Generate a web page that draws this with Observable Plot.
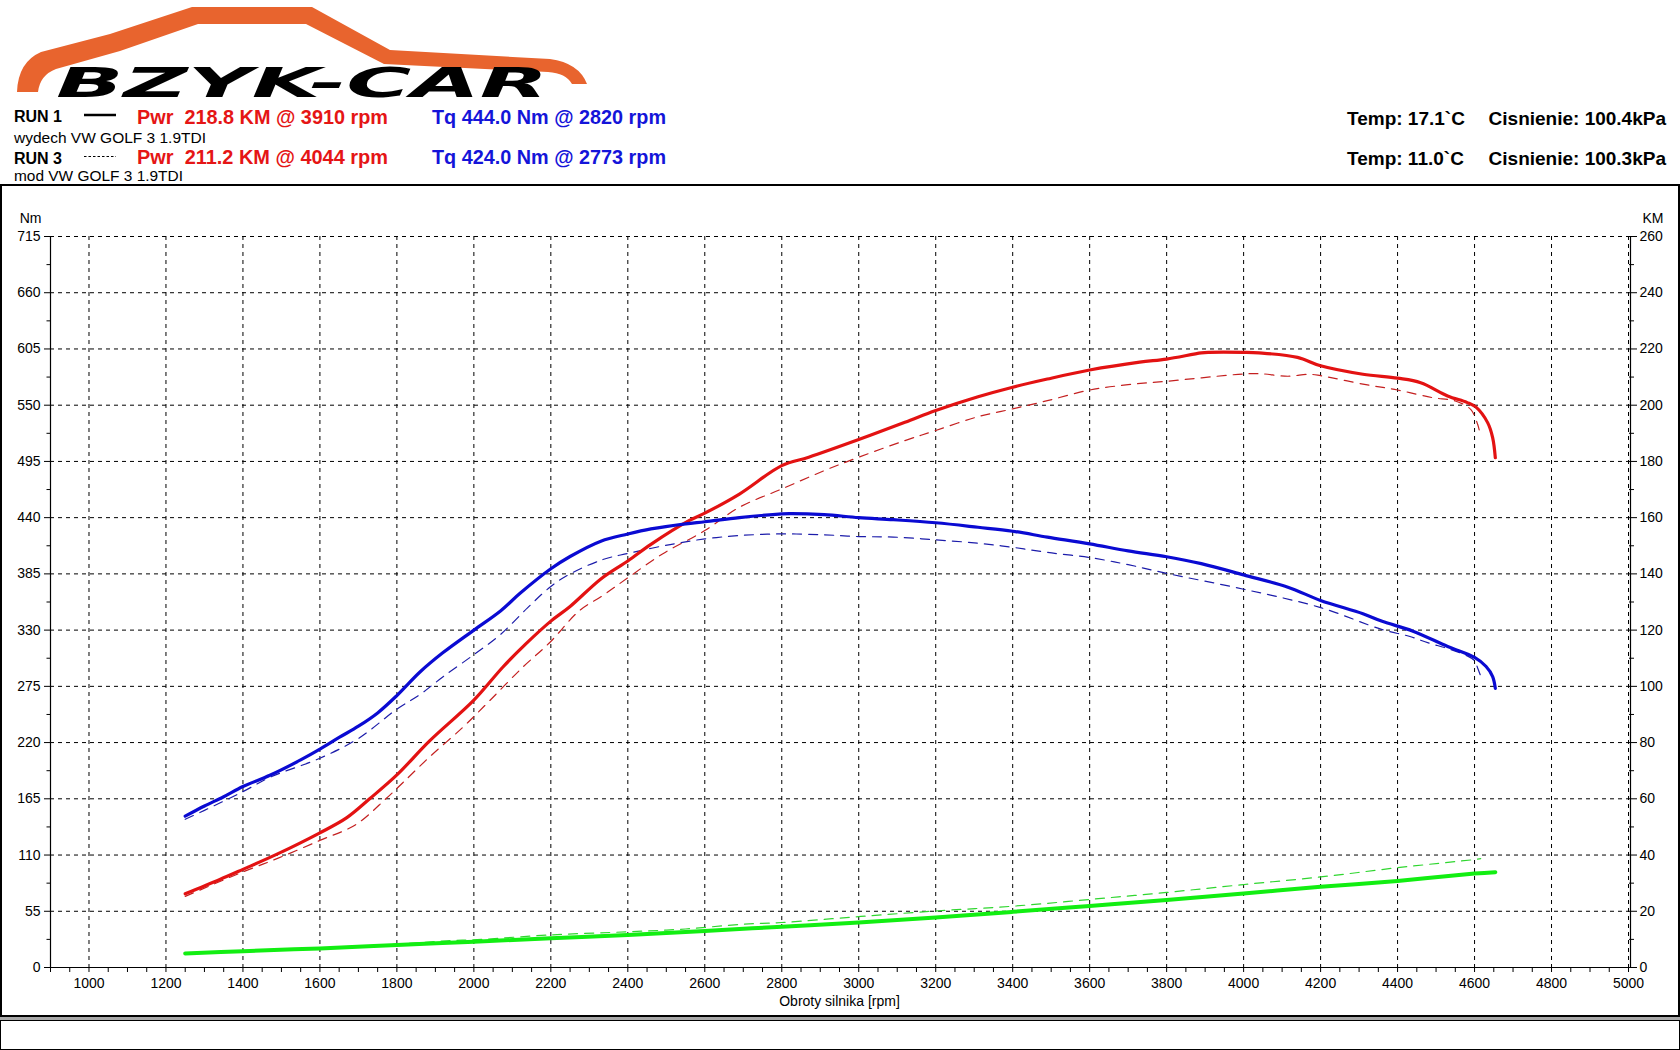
<!DOCTYPE html>
<html>
<head>
<meta charset="utf-8">
<script src="https://cdn.jsdelivr.net/npm/d3@7"></script>
<script src="https://cdn.jsdelivr.net/npm/@observablehq/plot@0.6"></script>
<style>
html, body { margin: 0; padding: 0; background: #fff; }
#page { position: relative; width: 1680px; height: 1050px; overflow: hidden; font-family: "Liberation Sans", Arial, sans-serif; background: #fff; }
#header { position: absolute; left: 0; top: 0; }
#frame { position: absolute; left: 0; top: 184px; width: 1680px; height: 833px; border: 2px solid #000; box-sizing: border-box; }
#bar { position: absolute; left: 0; top: 1017px; width: 1680px; height: 3px; background: #a8a8a8; }
#box2 { position: absolute; left: 0; top: 1020px; width: 1680px; height: 30px; border: 1px solid #000; box-sizing: border-box; }
#chart { position: absolute; left: 2px; top: 186px; }
</style>
</head>
<body>
<div id="page">
  <svg id="header" width="1680" height="184" xmlns="http://www.w3.org/2000/svg" font-family="Liberation Sans, Arial, sans-serif">
    <path d="M17,92 Q18,62 41,52 L110,34 L192,7 L312,7 L390,50 L550,59 Q579,63 587,84 L572,84 Q566,73 548,72 L384,64 L306,24 L198,24 L120,51 L56,69 Q40,75 38,92 Z" fill="#e8642e"/>
    <text x="56" y="97" font-family="DejaVu Sans, sans-serif" font-weight="bold" font-style="oblique" font-size="41" textLength="492" lengthAdjust="spacingAndGlyphs" fill="#000">BZYK-CAR</text>

    <text x="14" y="121.5" font-weight="bold" font-size="16" fill="#000">RUN 1</text>
    <line x1="84" x2="116" y1="115" y2="115" stroke="#000" stroke-width="2.5"/>
    <text x="137" y="124" font-weight="bold" font-size="20" fill="#e51515" textLength="251" lengthAdjust="spacingAndGlyphs" style="white-space:pre">Pwr  218.8 KM @ 3910 rpm</text>
    <text x="432" y="124" font-weight="bold" font-size="20" fill="#1414d9" textLength="234" lengthAdjust="spacingAndGlyphs">Tq 444.0 Nm @ 2820 rpm</text>
    <text x="14" y="142.5" font-size="14.5" fill="#000" textLength="192" lengthAdjust="spacingAndGlyphs">wydech VW GOLF 3 1.9TDI</text>

    <text x="14" y="164" font-weight="bold" font-size="16" fill="#000">RUN 3</text>
    <line x1="84" x2="116" y1="156.5" y2="156.5" stroke="#000" stroke-width="1" stroke-dasharray="2.5,2"/>
    <text x="137" y="163.5" font-weight="bold" font-size="20" fill="#e51515" textLength="251" lengthAdjust="spacingAndGlyphs" style="white-space:pre">Pwr  211.2 KM @ 4044 rpm</text>
    <text x="432" y="163.5" font-weight="bold" font-size="20" fill="#1414d9" textLength="234" lengthAdjust="spacingAndGlyphs">Tq 424.0 Nm @ 2773 rpm</text>
    <text x="14" y="181" font-size="14.5" fill="#000" textLength="169" lengthAdjust="spacingAndGlyphs">mod VW GOLF 3 1.9TDI</text>

    <text x="1347" y="125" font-weight="bold" font-size="19" fill="#000">Temp: 17.1`C</text>
    <text x="1666" y="125" font-weight="bold" font-size="19" fill="#000" text-anchor="end">Cisnienie: 100.4kPa</text>
    <text x="1347" y="165" font-weight="bold" font-size="19" fill="#000">Temp: 11.0`C</text>
    <text x="1666" y="165" font-weight="bold" font-size="19" fill="#000" text-anchor="end">Cisnienie: 100.3kPa</text>
  </svg>
  <div id="frame"></div>
  <div id="bar"></div>
  <div id="box2"></div>
  <div id="chart"></div>
</div>
<script>
// ---- Torque (Nm) ----
const tq1Rpm = [1250,1300,1350,1400,1470,1550,1600,1650,1700,1750,1800,1860,1920,2000,2070,2120,2200,2250,2330,2400,2460,2550,2600,2690,2800,2820,2910,3000,3090,3200,3310,3400,3490,3600,3700,3800,3890,4000,4115,4200,4310,4360,4440,4530,4600,4630,4647,4654];
const tq1Nm  = [148,158,167,177,188,203,213.5,225,236,249,266,289,308,330,349,366,390,402,417,424,429,434,436,440,443.7,444,443,440,438,435,430.6,426.7,421,414.4,407.5,401.8,395,384,372,359,346,338.6,329,314,303.3,294.4,284.6,273];
const tq3Rpm = [1250,1300,1400,1470,1600,1700,1800,1860,1920,2000,2070,2140,2200,2250,2335,2400,2510,2600,2690,2800,2910,3000,3090,3200,3310,3400,3490,3600,3700,3800,4000,4200,4360,4430,4480,4530,4580,4600,4608,4615];
const tq3Nm  = [145,153.7,172,186,204.7,224,252.7,267,284.4,306,326,352,372.7,385,399,405,413.7,419.2,422.5,424.1,423.2,421.5,421,418.3,415,411,406,401,394,385.5,370,352,330.5,324,317.5,312,305,300,293,286];

// ---- Power (KM) ----
const pw1Rpm = [1250,1340,1400,1490,1600,1670,1730,1800,1885,2000,2075,2135,2200,2250,2330,2400,2460,2560,2600,2690,2800,2870,3000,3120,3200,3310,3400,3490,3600,3730,3800,3890,3910,4000,4040,4140,4200,4310,4400,4460,4530,4580,4603,4634,4647,4654];
const pw1Km  = [26.2,31.3,34.9,40.4,47.9,53.3,60.1,68.5,80.6,95.1,106.8,115.1,123.2,128.4,138.2,144.6,150.5,159,161.6,168.4,178.5,181.5,187.8,193.9,198.1,203,206.4,209.3,212.5,215.3,216.4,218.6,218.8,218.8,218.6,217,214,211,209.6,208,203.3,201,199.4,193.8,188.5,181.3];
const pw3Rpm = [1250,1400,1490,1600,1694,1772,1816,1885,1971,2041,2127,2198,2274,2335,2400,2490,2600,2690,2800,2910,3000,3120,3200,3310,3400,3490,3600,3700,3800,4000,4044,4115,4170,4200,4310,4400,4490,4550,4590,4608,4615];
const pw3Km  = [25.3,34,38.8,45.2,50.9,60.1,65.8,74.9,85.4,94.9,106.8,115.7,126.9,132.3,138.6,147.1,155.4,163.7,170.2,176.7,181.5,187.4,191,195.9,198.7,201.6,205.4,207.3,208.5,211.1,211.2,210.3,211,210.5,207.5,205.4,202.7,201.5,198.5,193.2,189.4];

// ---- Loss power (KM) ----
const ls1Rpm = [1250,1400,1600,1800,2000,2200,2400,2600,2800,3000,3200,3400,3600,3800,4000,4200,4400,4600,4654];
const ls1Km  = [5.0,5.8,6.8,8.0,9.2,10.4,11.6,13.0,14.5,16.0,17.8,19.8,21.9,24.0,26.3,28.7,30.8,33.4,33.9];
const ls3Rpm = [1250,1400,1600,1800,1930,2020,2200,2400,2550,2700,2800,3000,3200,3400,3600,3800,4000,4200,4400,4600,4616];
const ls3Km  = [5.0,5.9,7.0,8.3,9.5,10.0,11.6,12.7,13.7,15.4,16.0,18.1,20.1,21.8,24.2,26.7,29.5,32.2,35.5,38.4,38.7];

// ---- Axis ticks ----
const rpmLabels = d3.range(1000, 5001, 200);
const rpmMinor  = d3.range(900, 5001, 50);
const nmTicks   = d3.range(0, 716, 55);
const kmTicks   = d3.range(0, 261, 20);
const kmPerNm = 2.75; // right axis: 260 KM = 715 Nm

const zip = (xs, ys) => xs.map((x, i) => ({rpm: x, v: ys[i]}));
const tq1 = zip(tq1Rpm, tq1Nm), tq3 = zip(tq3Rpm, tq3Nm);
const pw1 = zip(pw1Rpm, pw1Km), pw3 = zip(pw3Rpm, pw3Km);
const ls1 = zip(ls1Rpm, ls1Km), ls3 = zip(ls3Rpm, ls3Km);
const kmY = d => d.v * kmPerNm;

const grid = {stroke: "#000", strokeOpacity: 1, strokeWidth: 1, strokeDasharray: "4,4"};
const curve = "catmull-rom";

const chart = Plot.plot({
  width: 1676,
  height: 827,
  marginLeft: 48,
  marginRight: 50,
  marginTop: 50,
  marginBottom: 46,
  style: {background: "transparent", fontFamily: "Liberation Sans, Arial, sans-serif", fontSize: "14px", color: "#000"},
  x: {domain: [900, 5000]},
  y: {domain: [0, 715]},
  marks: [
    Plot.gridX(rpmLabels, grid),
    Plot.gridY(nmTicks.slice(1), grid),
    // axes lines
    Plot.ruleX([900], {stroke: "#000", strokeWidth: 1.2}),
    Plot.ruleX([5000], {stroke: "#000", strokeWidth: 1.2, dx: 2}),
    Plot.ruleY([0], {stroke: "#000", strokeWidth: 1.2}),
    // left axis
    Plot.axisY({anchor: "left", ticks: nmTicks, tickSize: 6, tickPadding: 4, label: null, fontSize: 14}),
    Plot.axisY({anchor: "left", ticks: nmTicks.slice(0, -1).map(d => d + 27.5), tickSize: 3.5, tickFormat: () => "", label: null}),
    // right axis (KM)
    Plot.axisY({anchor: "right", ticks: kmTicks.map(k => k * kmPerNm), tickFormat: d => String(Math.round(d / kmPerNm)), tickSize: 8, tickPadding: 3, label: null, fontSize: 14}),
    Plot.axisY({anchor: "right", ticks: kmTicks.slice(0, -1).map(k => (k + 10) * kmPerNm), tickSize: 5, tickFormat: () => "", label: null}),
    // bottom axis
    Plot.axisX({anchor: "bottom", ticks: rpmMinor, tickSize: 5, tickFormat: () => "", label: null}),
    Plot.axisX({anchor: "bottom", ticks: rpmLabels, tickSize: 0, tickPadding: 11, tickFormat: d => String(d), label: null, fontSize: 14}),
    // axis titles
    Plot.text(["Nm"], {frameAnchor: "top-left", dx: -9, dy: -18, textAnchor: "end", lineAnchor: "middle", fontSize: 14}),
    Plot.text(["KM"], {frameAnchor: "top-right", dx: 14, dy: -18, textAnchor: "start", lineAnchor: "middle", fontSize: 14}),
    Plot.text(["Obroty silnika [rpm]"], {frameAnchor: "bottom", dy: 34, lineAnchor: "middle", fontSize: 14}),
    // run 3 (dashed)
    Plot.line(ls3, {x: "rpm", y: kmY, stroke: "#2fd62f", strokeWidth: 1.2, strokeDasharray: "9,7", curve}),
    Plot.line(pw3, {x: "rpm", y: kmY, stroke: "#c42020", strokeWidth: 1.2, strokeDasharray: "9,7", curve}),
    Plot.line(tq3, {x: "rpm", y: "v", stroke: "#1c1caa", strokeWidth: 1.2, strokeDasharray: "9,7", curve}),
    // run 1 (solid)
    Plot.line(ls1, {x: "rpm", y: kmY, stroke: "#12ee12", strokeWidth: 4, curve}),
    Plot.line(pw1, {x: "rpm", y: kmY, stroke: "#e31212", strokeWidth: 3.2, curve}),
    Plot.line(tq1, {x: "rpm", y: "v", stroke: "#0a0ad2", strokeWidth: 3.2, curve})
  ]
});
document.getElementById("chart").appendChild(chart);
</script>
</body>
</html>
